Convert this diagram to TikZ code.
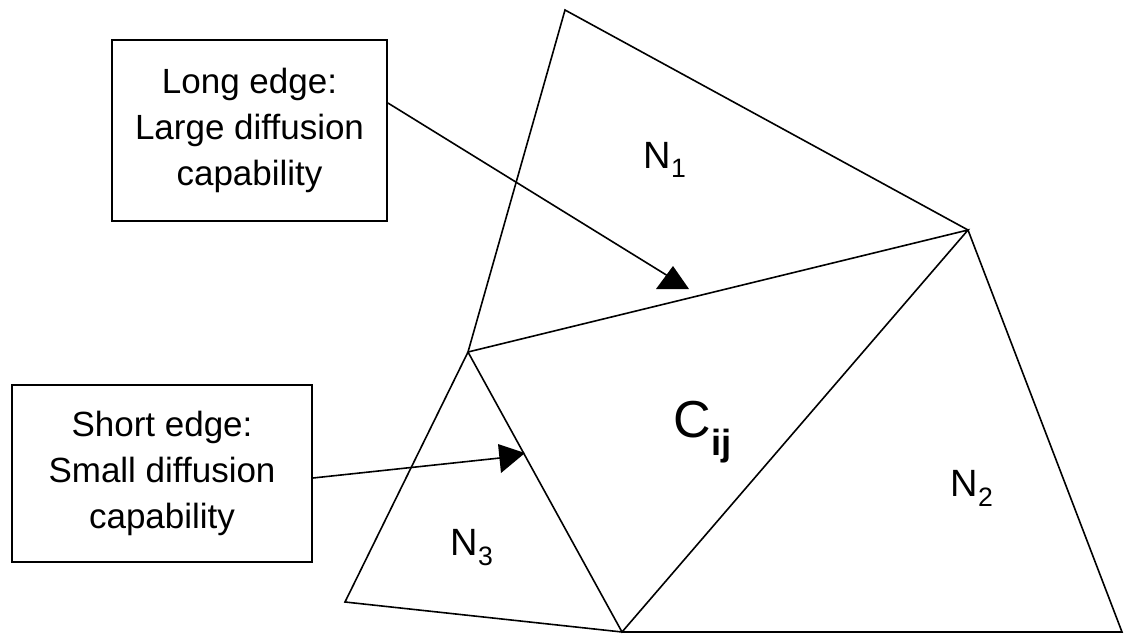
\documentclass[tikz,border=0pt]{standalone}
\usepackage{fontspec}
\setmainfont{Liberation Sans}
\begin{document}
\begin{tikzpicture}[x=1pt,y=-1pt,
  edge/.style={line width=1.6pt},
  box/.style={draw, line width=1.8pt, align=center, inner sep=0pt, font=\fontsize{35}{46}\selectfont},
  lbl/.style={inner sep=0pt, font=\fontsize{38}{40}\selectfont},
  head/.style={fill=black}]
\useasboundingbox (0,0) rectangle (1126,636);
% mesh vertices
\coordinate (T) at (565,10);
\coordinate (R) at (968,230);
\coordinate (L) at (468,352);
\coordinate (B) at (622,632);
\coordinate (BR) at (1122,632);
\coordinate (FL) at (345,602);
\draw[edge] (T) -- (R) -- (BR) -- (B) -- (FL) -- (L) -- cycle;
\draw[edge] (L) -- (R) -- (B) -- (L);
% labels
\node[lbl] (n1) at (665,160) {N\textsubscript{1}};
\node[lbl] (n2) at (972,488) {N\textsubscript{2}};
\node[lbl] (n3) at (472,548) {N\textsubscript{3}};
\node[inner sep=0pt, font=\fontsize{52}{52}\selectfont] (cij) at (703,432) {C\textsubscript{\bfseries ij}};
% boxes
\node[box, minimum width=275pt, minimum height=181pt] (box1) at (249.5,130.5) {Long edge:\\Large diffusion\\capability};
\node[box, minimum width=300pt, minimum height=177pt] (box2) at (162,473.5) {Short edge:\\Small diffusion\\capability};
% arrows
\coordinate (e1) at (668,276);
\coordinate (e2) at (500,458);
\draw[edge] ([yshift=27.5pt]box1.east) -- (e1);
\draw[edge] ([yshift=-4.5pt]box2.east) -- (e2);
\fill[head] (673,266) -- (656,289) -- (689,289) -- cycle;
\fill[head] (498,444) -- (501,473) -- (525,453) -- cycle;
\end{tikzpicture}
\end{document}
